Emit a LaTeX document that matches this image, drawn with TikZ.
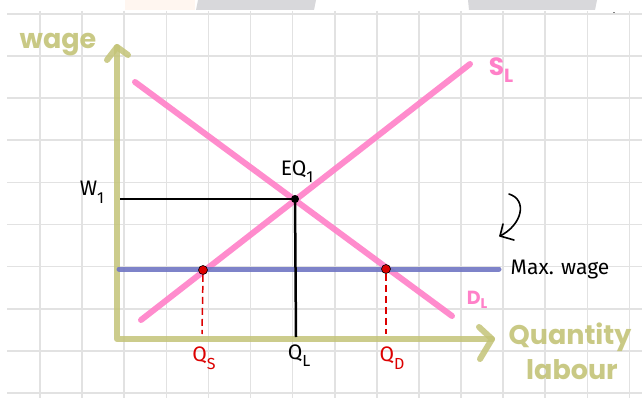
\documentclass[tikz,border=0pt]{standalone}
\usepackage{fontspec}
\setmainfont{Fira Sans}
\newfontfamily\handbold{Poppins Bold}
\usetikzlibrary{calc}
\definecolor{gridc}{RGB}{226,226,226}
\definecolor{olivec}{RGB}{196,196,120}
\definecolor{pinkc}{RGB}{255,128,200}
\definecolor{bluec}{RGB}{112,118,196}
\definecolor{redc}{RGB}{220,0,0}
\definecolor{greyc}{RGB}{216,216,219}
\definecolor{darkgreyc}{RGB}{150,150,150}
\definecolor{peachc}{RGB}{255,246,240}
\newcommand{\subx}[2]{\raisebox{#1}{\fontsize{16}{16}\selectfont #2}}
\tikzset{
  gridline/.style={gridc, line width=1.6pt},
  axisline/.style={olivec, line width=6pt, line cap=round, line join=round, opacity=0.85},
  curveline/.style={pinkc, line width=6pt, line cap=round, opacity=0.9},
  maxline/.style={bluec, line width=5pt, line cap=round, opacity=0.9},
  blackline/.style={black, line width=2.5pt},
  dashline/.style={redc, line width=1.5pt, dash pattern=on 7pt off 4pt},
  reddot/.style={circle, fill=redc, draw=black, line width=0.6pt, inner sep=0pt, minimum size=9pt},
  blackdot/.style={circle, fill=black, inner sep=0pt, minimum size=8pt},
  lab/.style={font=\fontsize{21}{21}\selectfont, inner sep=0pt},
  redlab/.style={lab, text=redc},
  olivelab/.style={font=\handbold\fontsize{27}{27}\selectfont, text=olivec, inner sep=0pt, opacity=0.9},
  pinklab/.style={font=\handbold\fontsize{25}{25}\selectfont, text=pinkc, inner sep=0pt}
}
\begin{document}
\begin{tikzpicture}[x=1pt,y=-1pt]
\useasboundingbox (0,0) rectangle (642,398);
\fill[white] (0,0) rectangle (642,398);
% top artifacts
\fill[peachc] (125,0) rectangle (195,10);
\fill[greyc] (198,0) -- (316,0) -- (314,10) -- (196,10) -- cycle;
\fill[darkgreyc] (205,0) arc[start angle=180, end angle=360, x radius=28, y radius=5] -- cycle;
\fill[greyc] (468,0) -- (597,0) -- (595,10) -- (469,10) -- cycle;
\fill[black] (614,13) circle (0.8);
% grid
\foreach \i in {0,...,14} { \draw[gridline] ({40+42.1*\i},11) -- ({40+42.1*\i},398); }
\foreach \j in {0,...,9} { \draw[gridline] (7,{14+42.1*\j}) -- (642,{14+42.1*\j}); }
% coordinates
\coordinate (O) at (117,339);
\coordinate (ytip) at (117,47);
\coordinate (xtip) at (492,339);
\coordinate (d1) at (135,82);
\coordinate (d2) at (452,316);
\coordinate (s1) at (141,320);
\coordinate (s2) at (470,64);
\coordinate (m1) at (119,269);
\coordinate (m2) at (499,269);
\coordinate (w1) at (120,199);
\coordinate (qlb) at (296,337);
\coordinate (qsb) at (202,334);
\coordinate (qdb) at (386,334);
% axes
\draw[axisline] (ytip) -- (O) -- (xtip);
\draw[axisline] (107,60) -- (ytip) -- (128,55);
\draw[axisline] (479,327) -- (xtip) -- (480,359);
% curves
\draw[curveline] (d1) -- (d2);
\draw[curveline] (s1) -- (s2);
\draw[maxline] (m1) -- (m2);
% equilibrium
\node[blackdot] (eq) at (295,199) {};
\draw[blackline] (w1) -- (eq.center);
\draw[blackline] (eq.center) -- (qlb);
% dots
\node[reddot] (qs) at (203,270) {};
\node[reddot] (qd) at (386,269) {};
\draw[dashline] (qs.south) -- (qsb);
\draw[dashline] (qd.south) -- (qdb);
% labels
\node[olivelab] (wage) at (58,45) {wage};
\node[olivelab] (qty) at (570,337) {Quantity};
\node[olivelab] (labour) at (572,370) {labour};
\node[pinklab] (sl) at (501,70) {S\raisebox{-7pt}{\fontsize{19}{19}\selectfont L}};
\node[pinklab, font=\handbold\fontsize{19}{19}\selectfont] (dl) at (477,300) {D\raisebox{-4pt}{\fontsize{14}{14}\selectfont L}};
\node[lab] (w1l) at (92,192) {W\subx{-8pt}{1}};
\node[lab] (eql) at (297,172) {EQ\subx{-7pt}{1}};
\node[lab] (maxw) at (560,270) {Max. wage};
\node[redlab] (qsl) at (204,358) {Q\subx{-8pt}{S}};
\node[lab] (qll) at (299,356) {Q\subx{-7pt}{L}};
\node[redlab] (qdl) at (392,358) {Q\subx{-8pt}{D}};
% curved arrow
\coordinate (ca1) at (509,194);
\coordinate (ca2) at (500,236);
\draw[black, line width=1.6pt, line cap=round] (ca1) .. controls (528,200) and (522,225) .. (ca2);
\draw[black, line width=1.6pt, line cap=round, line join=round] (503,224) -- (ca2) -- (514,240);
\end{tikzpicture}
\end{document}
